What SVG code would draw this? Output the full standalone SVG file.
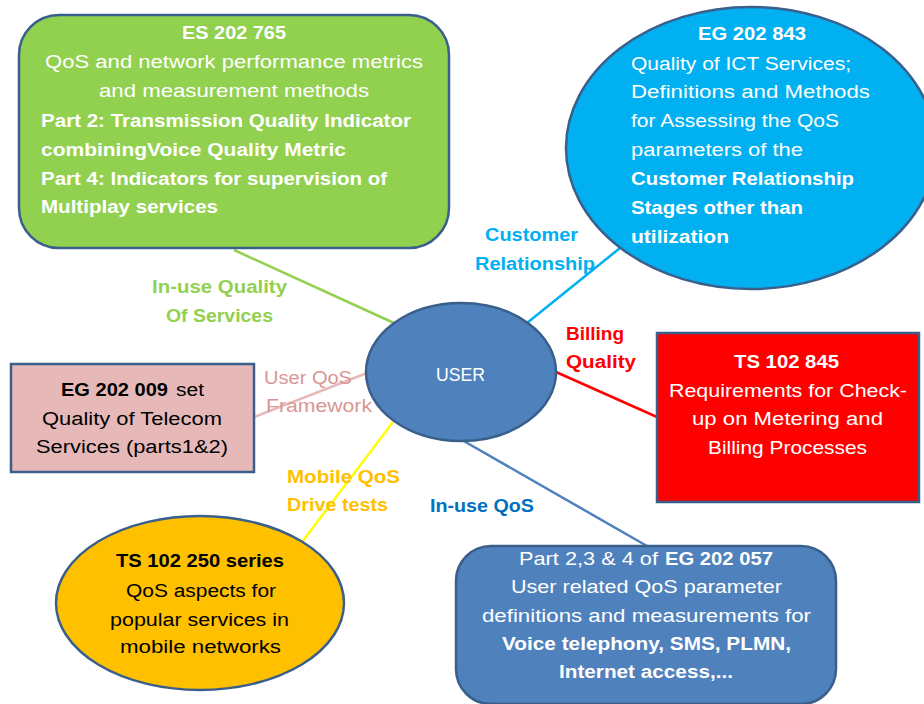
<svg xmlns="http://www.w3.org/2000/svg" width="924" height="704" viewBox="0 0 924 704">
<style>
text{font-family:"Liberation Sans",Arial,sans-serif;font-size:18px}
.b{font-weight:bold}
.w{fill:#FFFFFF}
.k{fill:#000000}
.node{stroke:#3A5F8B;stroke-width:2.5}
.ln{stroke-width:2.5;fill:none}
</style>
<rect width="924" height="704" fill="#FFFFFF"/>
<g id="connectors">
  <line class="ln" x1="234" y1="250" x2="394" y2="323" stroke="#92D050"/>
  <line class="ln" x1="527" y1="323" x2="620" y2="248" stroke="#00B0F0"/>
  <line class="ln" x1="254" y1="417" x2="367" y2="373" stroke="#E6B9B8"/>
  <line class="ln" x1="556" y1="372" x2="657" y2="417" stroke="#FF0000"/>
  <line class="ln" x1="393" y1="422" x2="302" y2="542" stroke="#FFFF00"/>
  <line class="ln" x1="462" y1="440" x2="647" y2="546" stroke="#4F81BD"/>
  <g id="labels">
    <text class="b" x="152" y="293" textLength="135" lengthAdjust="spacingAndGlyphs" fill="#92D050">In-use Quality</text>
    <text class="b" x="166" y="322" textLength="107" lengthAdjust="spacingAndGlyphs" fill="#92D050">Of Services</text>
    <text class="b" x="485" y="241" textLength="93" lengthAdjust="spacingAndGlyphs" fill="#00B0F0">Customer</text>
    <text class="b" x="475" y="270" textLength="120" lengthAdjust="spacingAndGlyphs" fill="#00B0F0">Relationship</text>
    <text x="264" y="384" textLength="88" lengthAdjust="spacingAndGlyphs" fill="#D99694">User QoS</text>
    <text x="266" y="412" textLength="106" lengthAdjust="spacingAndGlyphs" fill="#D99694">Framework</text>
    <text class="b" x="566" y="340" textLength="58" lengthAdjust="spacingAndGlyphs" fill="#FF0000">Billing</text>
    <text class="b" x="566" y="368" textLength="70" lengthAdjust="spacingAndGlyphs" fill="#FF0000">Quality</text>
    <text class="b" x="287" y="483" textLength="113" lengthAdjust="spacingAndGlyphs" fill="#FFC000">Mobile QoS</text>
    <text class="b" x="287" y="511" textLength="101" lengthAdjust="spacingAndGlyphs" fill="#FFC000">Drive tests</text>
    <text class="b" x="430" y="512" textLength="104" lengthAdjust="spacingAndGlyphs" fill="#0070C0">In-use QoS</text>
  </g>
</g>
<g id="es202765">
  <rect class="node" x="19" y="15" width="430" height="233" rx="40" fill="#92D050"/>
  <text class="b w" x="182" y="39" textLength="104" lengthAdjust="spacingAndGlyphs">ES 202 765</text>
  <text class="w" x="45" y="68" textLength="378" lengthAdjust="spacingAndGlyphs">QoS and network performance metrics</text>
  <text class="w" x="99" y="97" textLength="270" lengthAdjust="spacingAndGlyphs">and measurement methods</text>
  <text class="b w" x="41" y="127" textLength="370" lengthAdjust="spacingAndGlyphs">Part 2: Transmission Quality Indicator</text>
  <text class="b w" x="41" y="156" textLength="305" lengthAdjust="spacingAndGlyphs">combiningVoice Quality  Metric</text>
  <text class="b w" x="41" y="185" textLength="346" lengthAdjust="spacingAndGlyphs">Part 4: Indicators for supervision of</text>
  <text class="b w" x="41" y="213" textLength="177" lengthAdjust="spacingAndGlyphs">Multiplay services</text>
</g>
<g id="eg202843">
  <ellipse class="node" cx="751" cy="148" rx="185" ry="141" fill="#00B0F0"/>
  <text class="b w" x="698" y="40" textLength="108" lengthAdjust="spacingAndGlyphs">EG 202 843</text>
  <text class="w" x="631" y="70" textLength="220" lengthAdjust="spacingAndGlyphs">Quality of ICT Services;</text>
  <text class="w" x="631" y="98" textLength="239" lengthAdjust="spacingAndGlyphs">Definitions and Methods</text>
  <text class="w" x="631" y="127" textLength="208" lengthAdjust="spacingAndGlyphs">for Assessing the QoS</text>
  <text class="w" x="631" y="156" textLength="172" lengthAdjust="spacingAndGlyphs">parameters of the</text>
  <text class="b w" x="631" y="185" textLength="223" lengthAdjust="spacingAndGlyphs">Customer Relationship</text>
  <text class="b w" x="631" y="214" textLength="172" lengthAdjust="spacingAndGlyphs">Stages other than</text>
  <text class="b w" x="631" y="243" textLength="98" lengthAdjust="spacingAndGlyphs">utilization</text>
</g>
<g id="user">
  <ellipse class="node" cx="461" cy="372" rx="95" ry="69" fill="#4F81BD"/>
  <text class="w" x="436" y="381" textLength="49" lengthAdjust="spacingAndGlyphs">USER</text>
</g>
<g id="eg202009">
  <rect class="node" x="11" y="364" width="243" height="108" fill="#E6B9B8"/>
  <text class="b k" x="61" y="396" textLength="107" lengthAdjust="spacingAndGlyphs">EG 202 009</text>
  <text class="k" x="176" y="396" textLength="28" lengthAdjust="spacingAndGlyphs">set</text>
  <text class="k" x="42" y="425" textLength="180" lengthAdjust="spacingAndGlyphs">Quality of Telecom</text>
  <text class="k" x="36" y="453" textLength="192" lengthAdjust="spacingAndGlyphs">Services  (parts1&amp;2)</text>
</g>
<g id="ts102845">
  <rect class="node" x="657" y="333" width="262" height="169" fill="#FF0000"/>
  <text class="b w" x="734" y="368" textLength="105" lengthAdjust="spacingAndGlyphs">TS 102 845</text>
  <text class="w" x="669" y="397" textLength="238" lengthAdjust="spacingAndGlyphs">Requirements for Check-</text>
  <text class="w" x="692" y="425" textLength="191" lengthAdjust="spacingAndGlyphs">up on Metering and</text>
  <text class="w" x="708" y="454" textLength="159" lengthAdjust="spacingAndGlyphs">Billing Processes</text>
</g>
<g id="ts102250">
  <ellipse class="node" cx="200" cy="603" rx="144" ry="87" fill="#FFC000"/>
  <text class="b k" x="116" y="567" textLength="168" lengthAdjust="spacingAndGlyphs">TS 102 250 series</text>
  <text class="k" x="126" y="597" textLength="150" lengthAdjust="spacingAndGlyphs">QoS aspects for</text>
  <text class="k" x="110" y="626" textLength="179" lengthAdjust="spacingAndGlyphs">popular services in</text>
  <text class="k" x="120" y="653" textLength="161" lengthAdjust="spacingAndGlyphs">mobile networks</text>
</g>
<g id="eg202057">
  <rect class="node" x="456" y="546" width="380" height="158" rx="35" fill="#4F81BD"/>
  <text class="w" x="519" y="565" textLength="139" lengthAdjust="spacingAndGlyphs">Part 2,3 &amp; 4 of</text>
  <text class="b w" x="665" y="565" textLength="108" lengthAdjust="spacingAndGlyphs">EG 202 057</text>
  <text class="w" x="511" y="593" textLength="271" lengthAdjust="spacingAndGlyphs">User related QoS parameter</text>
  <text class="w" x="482" y="622" textLength="329" lengthAdjust="spacingAndGlyphs">definitions and measurements for</text>
  <text class="b w" x="502" y="650" textLength="289" lengthAdjust="spacingAndGlyphs">Voice telephony, SMS, PLMN,</text>
  <text class="b w" x="559" y="678" textLength="174" lengthAdjust="spacingAndGlyphs">Internet access,...</text>
</g>
</svg>
